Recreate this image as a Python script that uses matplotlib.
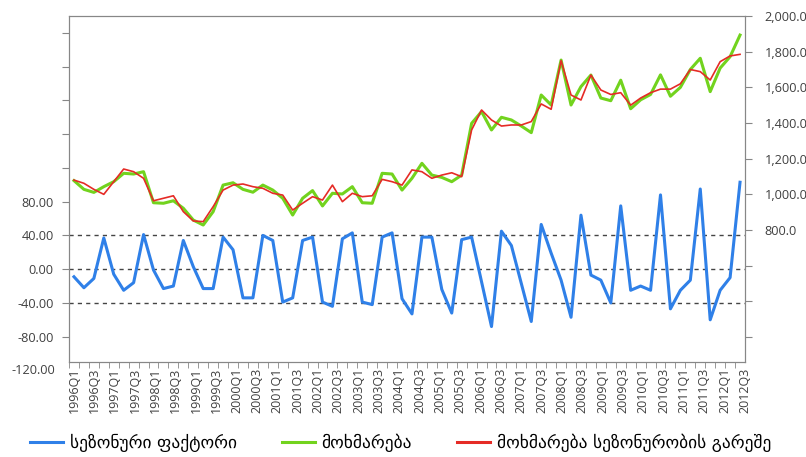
import numpy as np
import matplotlib.pyplot as plt
from matplotlib.ticker import FuncFormatter
from matplotlib.lines import Line2D

plt.rcParams['font.family'] = ['Open Sans', 'DejaVu Sans']

# --------------------------------------------------------------
quarters = [f'{y}Q{q}' for y in range(1996, 2013) for q in range(1, 5)]

seasonal = [-9, -22, -11, 37, -6, -25, -16, 41, -1, -23, -20, 34, 3, -23, -23, 38,
            23, -34, -34, 40, 34, -39, -34, 34, 38, -39, -44, 36, 43, -39, -42, 38,
            43, -35, -53, 38, 38, -24, -52, 35, 38, -15, -68, 45, 28, -17, -62, 53,
            19, -13, -57, 64, -7, -13, -40, 75, -25, -20, -25, 88, -47, -25, -13, 95,
            -60, -25, -10, 103]

consumption = [1077, 1028, 1011, 1043, 1071, 1118, 1114, 1127, 953, 950, 964, 922, 856, 828, 903, 1052,
               1065, 1028, 1012, 1052, 1024, 978, 884, 978, 1021, 935, 1006, 1002, 1043, 953, 950, 1118,
               1114, 1024, 1090, 1174, 1108, 1095, 1071, 1108, 1398, 1464, 1361, 1432, 1417, 1383, 1346, 1557,
               1501, 1753, 1501, 1604, 1669, 1540, 1525, 1640, 1480, 1530, 1560, 1670, 1550, 1600, 1700, 1763,
               1576, 1708, 1772, 1893]

consumption_sa = [1080, 1062, 1028, 1000, 1071, 1142, 1127, 1090, 964, 978, 992, 903, 851, 847, 931, 1024,
                  1052, 1058, 1043, 1034, 1006, 996, 912, 950, 987, 968, 1052, 959, 1006, 987, 992, 1084,
                  1071, 1052, 1137, 1127, 1090, 1108, 1121, 1099, 1361, 1473, 1417, 1383, 1389, 1389, 1408, 1507,
                  1477, 1750, 1557, 1529, 1669, 1585, 1560, 1570, 1500, 1540, 1570, 1590, 1590, 1620, 1700, 1688,
                  1641, 1744, 1776, 1785]

names = ['სეზონური ფაქტორი', 'მოხმარება', 'მოხმარება სეზონურობის გარეშე']
colors = ['#2f80e8', '#72d31e', '#e52b26']
grid_levels = [-40, 0, 40]
# --------------------------------------------------------------
x = np.arange(len(quarters))
fig = plt.figure(figsize=(8.06, 4.57), dpi=100)
ax = fig.add_axes([69/806, 1-362/457, 676/806, 346/457])
ax2 = ax.twinx()

for lvl in grid_levels:
    ax.axhline(lvl, color='#444444', lw=1, ls=(0, (3, 3)), zorder=1)

ax.plot(x, seasonal, color=colors[0], lw=2.2, zorder=3)
ax2.plot(x, consumption, color=colors[1], lw=2.2)
ax2.plot(x, consumption_sa, color=colors[2], lw=1.2)

gray = '#878787'
ax.set_xlim(-0.5, len(x) - 0.5)
ax.set_ylim(-110, 300)
ax2.set_ylim(60, 2000)

ax.set_yticks(np.arange(-80, 300, 40))
ax.yaxis.set_major_formatter(FuncFormatter(lambda v, p: f'{v:.2f}' if v <= 80 else ''))
ax.text(-14/676, -120, '-120.00', transform=ax.get_yaxis_transform(), ha='right', va='center',
        fontsize=9.2, color='#404040')
ax2.set_yticks(np.arange(200, 2001, 200))
ax2.yaxis.set_major_formatter(FuncFormatter(lambda v, p: f'{v:,.1f}' if v >= 800 else ''))

ax.tick_params(axis='y', length=5, color=gray, labelsize=9.2, labelcolor='#404040', pad=6)
ax2.tick_params(axis='y', length=5, color=gray, labelsize=9.2, labelcolor='#404040', pad=9)

# label positions drift slightly wider than the category spacing, as in the original
lab_pos = np.linspace(0, len(x) - 0.5, len(quarters[::2]))
ax.set_xticks(lab_pos)
ax.set_xticklabels(quarters[::2], rotation=90, fontsize=9, color='#404040')
ax.set_xticks(np.arange(-0.5, len(x), 1), minor=True)
ax.tick_params(axis='x', which='major', length=0, pad=4)
ax.tick_params(axis='x', which='minor', length=4, color=gray)

for a in (ax, ax2):
    for s in a.spines.values():
        s.set_color(gray)

handles = [Line2D([], [], color=c, lw=2.2) for c in colors]
fig.legend(handles, names, loc='center', bbox_to_anchor=(0.497, 1-443/457), ncol=3, frameon=False,
           prop={'family': 'DejaVu Sans', 'size': 12.5}, handlelength=1.9, columnspacing=2.6,
           handletextpad=0.4)

plt.savefig('out.png', dpi=100)
